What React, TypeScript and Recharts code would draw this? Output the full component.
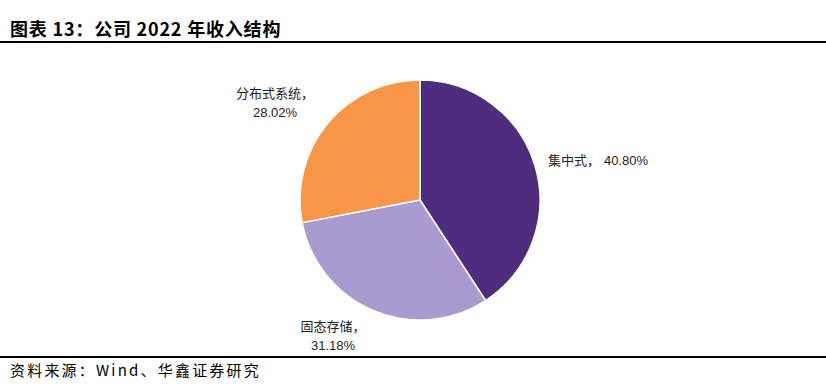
import { PieChart, Pie, Cell } from 'recharts'

const categories = ['集中式', '固态存储', '分布式系统']
const shares = [40.8, 31.18, 28.02]
const colors = ['#4E2C7E', '#A99BD0', '#F79646']

const data = categories.map((name, i) => ({ name, value: shares[i] }))

// label anchors relative to pie centre
const labelSpots = [
  { dx: 128, dy: -40, split: false },
  { dx: -87, dy: 126, split: true },
  { dx: -145, dy: -107, split: true },
]

const cnFont = '"Noto Sans CJK SC", sans-serif'
const numFont = '"Liberation Sans", Arial, sans-serif'

function renderLabel(props: any) {
  const { cx, cy, index } = props
  const s = labelSpots[index]
  const pct = shares[index].toFixed(2) + '%'
  const x = cx + s.dx
  const y = cy + s.dy
  if (!s.split) {
    return (
      <text x={x} y={y} dy={5} textAnchor="start" fontSize={13} fill="#222">
        <tspan fontFamily={cnFont}>{categories[index]}，</tspan>
        <tspan fontFamily={numFont} dx={4}>{pct}</tspan>
      </text>
    )
  }
  return (
    <text x={x} y={y} dy={5} textAnchor="middle" fontSize={13} fill="#222">
      <tspan x={x} fontFamily={cnFont}>{categories[index]}，</tspan>
      <tspan x={x} dy={19} fontFamily={numFont}>{pct}</tspan>
    </text>
  )
}

export default function App() {
  return (
    <div style={{ position: 'absolute', left: 0, top: 0, width: 826, height: 392, background: '#fff' }}>
      <PieChart
        width={826}
        height={392}
        margin={{ top: 0, right: 0, bottom: 0, left: 0 }}
        style={{ position: 'absolute', left: 0, top: 0 }}
      >
        <Pie
          data={data}
          dataKey="value"
          nameKey="name"
          cx={420}
          cy={200}
          outerRadius={120}
          startAngle={90}
          endAngle={-270}
          stroke="#fff"
          strokeWidth={1.5}
          label={renderLabel}
          labelLine={false}
          isAnimationActive={false}
        >
          {data.map((d, i) => (
            <Cell key={d.name} fill={colors[i]} />
          ))}
        </Pie>
      </PieChart>
      <div
        style={{
          position: 'absolute',
          left: 10,
          top: 17,
          fontFamily: cnFont,
          fontWeight: 700,
          fontSize: 18,
          letterSpacing: 0.8,
          lineHeight: '22px',
          color: '#000',
          whiteSpace: 'nowrap',
        }}
      >
        图表 13：公司 2022 年收入结构
      </div>
      <div style={{ position: 'absolute', left: 0, top: 41, width: 826, height: 2, background: '#000' }} />
      <div style={{ position: 'absolute', left: 0, top: 356, width: 826, height: 2, background: '#000' }} />
      <div
        style={{
          position: 'absolute',
          left: 10,
          top: 360,
          fontFamily: cnFont,
          fontSize: 15,
          letterSpacing: 2.2,
          lineHeight: '20px',
          color: '#000',
          whiteSpace: 'nowrap',
        }}
      >
        资料来源：Wind、华鑫证券研究
      </div>
    </div>
  )
}
